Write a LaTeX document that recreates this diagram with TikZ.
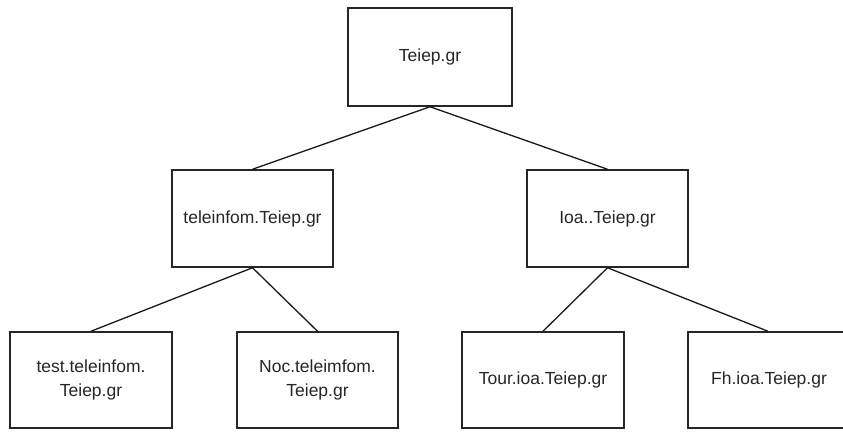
\documentclass[tikz,border=0pt]{standalone}
\usepackage{fontspec}
\setmainfont{Liberation Sans}
\usetikzlibrary{positioning}

\begin{document}
\begin{tikzpicture}[x=1pt, y=-1pt,
	box/.style={draw=black!85, line width=1.5pt, minimum width=161pt, minimum height=96pt, inner sep=0pt, align=center, text=black!85, font=\fontsize{17.5}{24}\selectfont},
	link/.style={black!90, line width=1.3pt}]
	\useasboundingbox (0,0) rectangle (843,431);
	% top level
	\node[box, minimum width=164pt, minimum height=98pt] (root) at (430,57) {Teiep.gr};
	% second level
	\node[box, minimum height=97pt] (tele) at (252.5,218.5) {teleinfom.Teiep.gr};
	\node[box, minimum height=97pt] (ioa) at (607.5,218.5) {Ioa..Teiep.gr};
	% third level
	\node[box, minimum width=162pt] (test) at (91,380) {test.teleinfom.\\Teiep.gr};
	\node[box] (noc) at (317.5,380) {Noc.teleimfom.\\Teiep.gr};
	\node[box, minimum width=162pt] (tour) at (543,380) {Tour.ioa.Teiep.gr};
	\node[box, minimum width=176pt] (fh) at (776,380) {\hspace*{-14pt}Fh.ioa.Teiep.gr};
	% connectors
	\draw[link] (root.south)--(tele.north);
	\draw[link] (root.south)--(ioa.north);
	\draw[link] (tele.south)--(test.north);
	\draw[link] (tele.south)--(noc.north);
	\draw[link] (ioa.south)--(tour.north);
	\draw[link] (ioa.south)--([xshift=-8pt]fh.north);
\end{tikzpicture}
\end{document}
